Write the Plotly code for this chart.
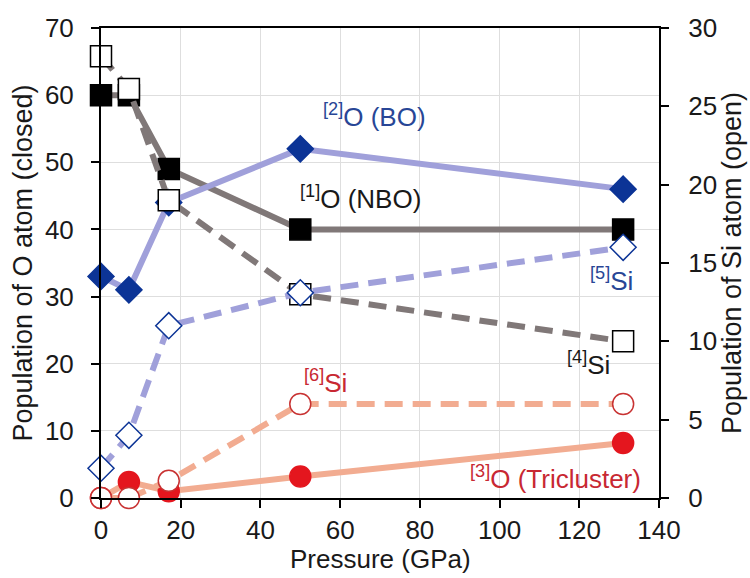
import plotly.graph_objects as go

pressure = [0, 7, 17, 50, 131]
o_nbo = [60, 60, 49, 40, 40]        # [1]O, closed squares (left)
o_bo = [33, 31, 44, 52, 46]         # [2]O, closed diamonds (left)
o_tri = [0, 2.4, 1.0, 3.2, 8.2]     # [3]O, closed circles (left)
si4 = [28.2, 26.1, 19.0, 13.0, 10.0]  # open squares (right)
si5 = [1.9, 4.0, 11.0, 13.1, 16.0]    # open diamonds (right)
si6 = [0, 0, 1.1, 6.0, 6.0]           # open circles (right)

GRAY = "rgb(128,120,120)"
LBLUE = "rgb(160,160,218)"
LORNG = "rgb(242,172,145)"
DBLUE = "rgb(12,52,150)"
RED = "rgb(228,22,30)"
DASH = "18px,10px"

fig = go.Figure()

def add(y, color, dash, sym, mcolor, mline, size, yaxis):
    fig.add_trace(go.Scatter(
        x=pressure, y=y, yaxis=yaxis, mode="lines+markers",
        line=dict(color=color, width=6, dash=dash),
        marker=dict(symbol=sym, size=size, color=mcolor,
                    line=dict(color=mline, width=1.5)),
        showlegend=False, cliponaxis=False))

add(o_nbo, GRAY, "solid", "square", "black", "black", 21, "y")
add(o_bo, LBLUE, "solid", "diamond", DBLUE, DBLUE, 20, "y")
add(o_tri, LORNG, "solid", "circle", RED, RED, 21, "y")
add(si4, GRAY, DASH, "square", "white", "black", 21, "y2")
add(si5, LBLUE, DASH, "diamond", "white", DBLUE, 20, "y2")
add(si6, LORNG, DASH, "circle", "white", "rgb(200,50,50)", 21, "y2")

FONT = "Liberation Sans, Arial, sans-serif"
TXT = "rgb(25,25,25)"
BTXT = "rgb(40,70,150)"
RTXT = "rgb(200,40,50)"

anns = [
    ("<sup>[2]</sup>O (BO)", 68.7, 57.0, BTXT, "center"),
    ("<sup>[1]</sup>O (NBO)", 65.2, 44.7, TXT, "center"),
    ("<sup>[5]</sup>Si", 128.0, 32.5, BTXT, "center"),
    ("<sup>[4]</sup>Si", 122.2, 20.1, TXT, "center"),
    ("<sup>[6]</sup>Si", 56.2, 17.3, RTXT, "center"),
    ("<sup>[3]</sup>O (Tricluster)", 136.0, 3.0, RTXT, "right"),
]
for t, x, y, c, xa in anns:
    fig.add_annotation(text=t, x=x, y=y, xref="x", yref="y", showarrow=False,
                       xanchor=xa, yanchor="middle",
                       font=dict(family=FONT, size=26, color=c))

# x-axis title placed as paper annotation for precise vertical position
fig.add_annotation(text="Pressure (GPa)", x=0.5, y=-0.13, xref="paper", yref="paper",
                   showarrow=False, xanchor="center", yanchor="middle",
                   font=dict(family=FONT, size=26, color=TXT))

axfont = dict(family=FONT, size=26, color=TXT)
rfont = dict(family=FONT, size=27, color=TXT)
fig.update_layout(
    width=750, height=578,
    margin=dict(l=101, r=91, t=28, b=80, autoexpand=False),
    paper_bgcolor="white", plot_bgcolor="white",
    font=dict(family=FONT, color=TXT),
    xaxis=dict(range=[0, 140], dtick=20, tick0=0, showgrid=True, automargin=False,
               gridcolor="rgb(222,222,222)", gridwidth=1,
               showline=True, linecolor="black", linewidth=2, mirror=True,
               ticks="outside", ticklen=8, tickcolor="black", tickwidth=2,
               tickfont=axfont, zeroline=False, ticklabelstandoff=0),
    yaxis=dict(range=[0, 70], dtick=10, showgrid=True, automargin=False,
               gridcolor="rgb(222,222,222)", gridwidth=1,
               showline=True, linecolor="black", linewidth=2,
               ticks="outside", ticklen=8, tickcolor="black", tickwidth=2,
               tickfont=axfont, zeroline=False, ticklabelstandoff=12,
               title=dict(text="Population of O atom (closed)", font=rfont, standoff=4)),
    yaxis2=dict(range=[0, 30], dtick=5, overlaying="y", side="right", automargin=False,
                showgrid=False, showline=True, linecolor="black", linewidth=2,
                ticks="outside", ticklen=8, tickcolor="black", tickwidth=2,
                tickfont=axfont, zeroline=False, ticklabelstandoff=14,
                title=dict(text="Population of Si atom (open)", font=rfont, standoff=4)),
)

fig.write_html("out.html")
